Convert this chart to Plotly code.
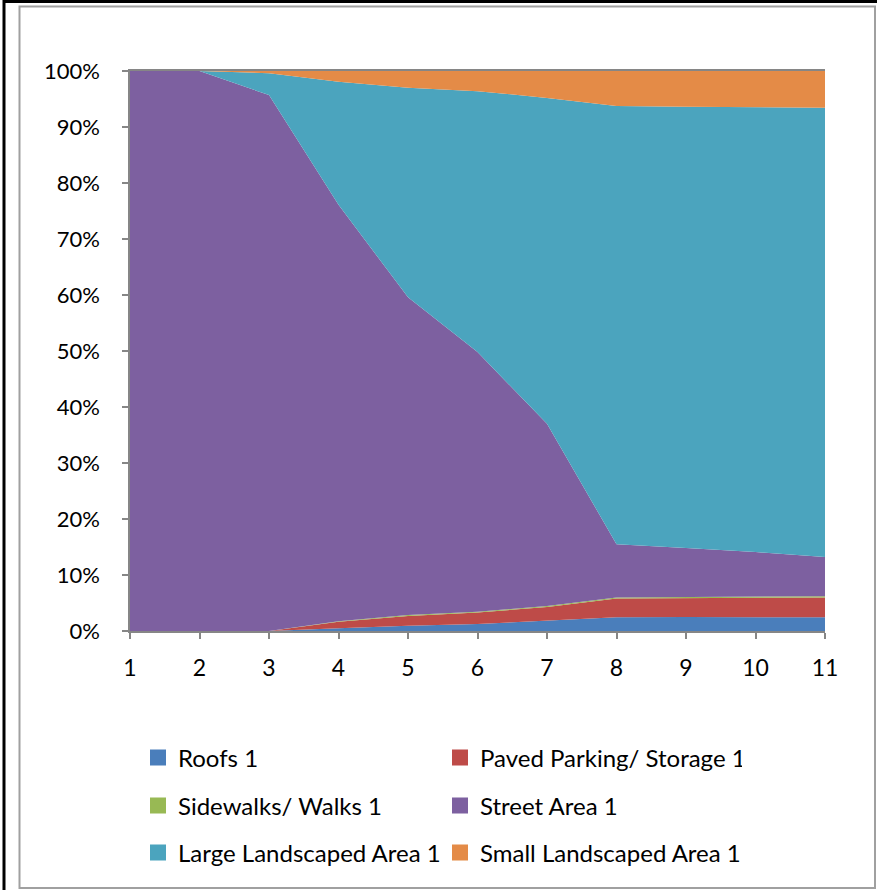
import plotly.graph_objects as go

# Share of each land-use category (percent), by step
steps = [1, 2, 3, 4, 5, 6, 7, 8, 9, 10, 11]
roofs = [0, 0, 0, 0.5, 0.95, 1.25, 1.85, 2.45, 2.5, 2.5, 2.45]
paved_parking = [0, 0, 0, 1.15, 1.75, 2.05, 2.45, 3.35, 3.4, 3.45, 3.55]
sidewalks = [0, 0, 0, 0.1, 0.15, 0.15, 0.15, 0.2, 0.2, 0.2, 0.2]
street_area = [100, 100, 95.7, 74.35, 56.75, 46.35, 32.55, 9.5, 8.7, 7.95, 7.0]
large_landscaped = [0, 0, 3.9, 22.0, 37.4, 46.6, 58.2, 78.25, 78.8, 79.45, 80.25]
small_landscaped = [0, 0, 0.4, 1.9, 3.0, 3.6, 4.8, 6.25, 6.4, 6.45, 6.55]

y_ticks = list(range(0, 101, 10))

series = [
    ("Roofs 1", roofs, "#4A7EBB", "legend"),
    ("Paved Parking/ Storage 1", paved_parking, "#BE4B48", "legend"),
    ("Sidewalks/ Walks 1", sidewalks, "#98B954", "legend2"),
    ("Street Area 1", street_area, "#7D60A0", "legend2"),
    ("Large Landscaped Area 1", large_landscaped, "#4BA4BE", "legend3"),
    ("Small Landscaped Area 1", small_landscaped, "#E48B47", "legend3"),
]

FONT = "Lato"
W, H = 877, 890
L, R, T, B = 130, 52, 71, 259
PW, PH = W - L - R, H - T - B


def px_x(p):
    return (p - L) / PW


def px_y(p):
    return (H - B - p) / PH


fig = go.Figure()

for name, vals, color, _ in series:
    fig.add_trace(go.Scatter(
        x=steps, y=vals, name=name, mode="lines",
        stackgroup="land", line=dict(width=0, color=color),
        fillcolor=color, showlegend=False, hoverinfo="skip",
    ))

# legend swatches
for name, vals, color, leg in series:
    fig.add_trace(go.Scatter(
        x=[None], y=[None], name=name, mode="markers",
        marker=dict(symbol="square", size=16, color=color),
        legend=leg, showlegend=True,
    ))

legend_common = dict(
    orientation="h", xanchor="left", yanchor="middle",
    x=px_x(138), font=dict(family=FONT, size=24, color="#000000"),
    entrywidth=257, itemwidth=30, bgcolor="rgba(0,0,0,0)",
    traceorder="normal",
)

axis_grey = "#868686"

fig.update_layout(
    width=W, height=H,
    margin=dict(l=L, r=R, t=T, b=B, autoexpand=False),
    paper_bgcolor="white", plot_bgcolor="white",
    font=dict(family=FONT, size=22, color="#000000"),
    xaxis=dict(
        range=[1, 11], tickmode="array", tickvals=steps,
        ticktext=[str(s) for s in steps],
        showgrid=False, zeroline=False, showline=True, linecolor=axis_grey,
        linewidth=1.5, mirror=True, ticks="outside", ticklen=6,
        tickcolor=axis_grey, tickwidth=1.5, ticklabelstandoff=10,
        tickfont=dict(family=FONT, size=23, color="#000000"),
    ),
    yaxis=dict(
        range=[0, 100], tickmode="array", tickvals=y_ticks,
        ticktext=[f"{v}%" for v in y_ticks],
        showgrid=False, zeroline=False, showline=True, linecolor=axis_grey,
        linewidth=1.5, ticks="outside", ticklen=6, tickcolor=axis_grey,
        tickwidth=1.5, ticklabelstandoff=18,
        tickfont=dict(family=FONT, size=22, color="#000000"),
    ),
    legend=dict(**legend_common, y=px_y(758)),
    legend2=dict(**legend_common, y=px_y(806)),
    legend3=dict(**legend_common, y=px_y(853)),
    shapes=[
        # chart frame
        dict(type="rect", xref="paper", yref="paper",
             x0=px_x(19.5), x1=px_x(875), y0=px_y(888), y1=px_y(6.5),
             line=dict(color="#A0A0A0", width=2), layer="below"),
        # dark edge along top and left
        dict(type="line", xref="paper", yref="paper",
             x0=px_x(3), x1=px_x(877), y0=px_y(1.5), y1=px_y(1.5),
             line=dict(color="#000000", width=3)),
        dict(type="line", xref="paper", yref="paper",
             x0=px_x(4), x1=px_x(4), y0=px_y(0), y1=px_y(890),
             line=dict(color="#000000", width=3)),
    ],
)

fig.write_html("out.html")
